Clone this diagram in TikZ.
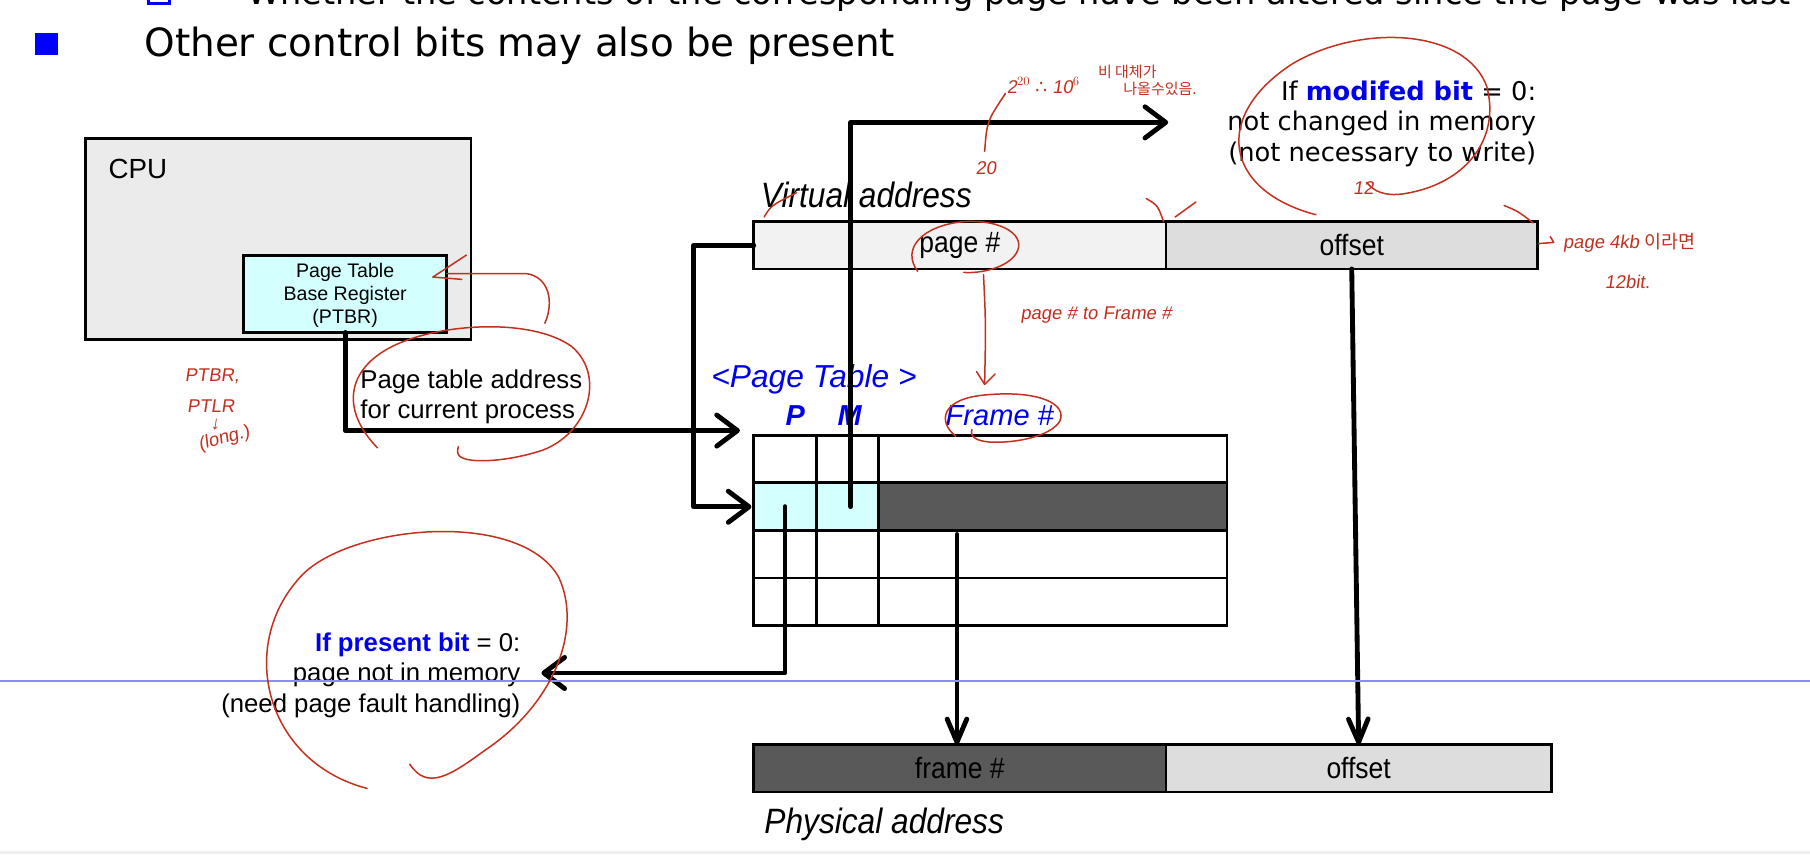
\documentclass[tikz,border=0pt]{standalone}
\usepackage{fontspec}
\setmainfont{Liberation Sans}
\newfontfamily\vfont{DejaVu Sans}
\newfontfamily\condfont{Liberation Sans}[FakeStretch=0.9]
\newfontfamily\handfont{Liberation Sans}[FakeSlant=0.15]
\newfontfamily\krfont{Noto Sans CJK KR}
\usetikzlibrary{arrows.meta,calc}
\definecolor{cpugray}{HTML}{EBEBEB}
\definecolor{cyanfill}{HTML}{D4FFFF}
\definecolor{darkfill}{HTML}{595959}
\definecolor{vfill}{HTML}{F2F2F2}
\definecolor{ofill}{HTML}{DDDDDD}
\definecolor{bluetxt}{HTML}{0000F0}
\definecolor{redink}{HTML}{C4301F}
\definecolor{rulecol}{HTML}{8C8CFF}
\begin{document}
\begin{tikzpicture}[x=1pt,y=-1pt,
  box/.style={draw=black, line width=2.4pt, inner sep=0pt, outer sep=0pt, anchor=north west},
  conn/.style={line width=4.2pt, line join=round, line cap=round},
  arr/.style={conn, -{Straight Barb[length=18pt,width=27pt,round]}},
  darr/.style={conn, -{Straight Barb[length=20pt,width=17pt,round]}},
  ink/.style={draw=redink, line width=1.3pt, line cap=round, line join=round},
  note/.style={text=redink, font=\handfont\fontsize{16}{18}\selectfont, inner sep=0pt, anchor=west},
  krnote/.style={text=redink, font=\krfont\fontsize{13}{15}\selectfont, inner sep=0pt, anchor=west},
  bartext/.style={font=\condfont\fontsize{25.5}{28}\selectfont},
  lbl/.style={inner sep=0pt},
]
\useasboundingbox (0,0) rectangle (1568,740);
\fill[white] (0,0) rectangle (1568,740);
\fill[gray!12] (0,737) rectangle (1568,740);

% slide text
\node[draw=blue, fill=white, line width=2.5pt, minimum size=18pt, inner sep=0pt] (b0) at (137.5,-6) {};
\node[lbl, anchor=base west, font=\vfont\fontsize{29.1}{36}\selectfont] (t0) at (214,4) {Whether the contents of the corresponding page have been altered since the page was last};
\node[fill=blue, minimum width=20pt, minimum height=19pt, inner sep=0pt] (b1) at (40,38.5) {};
\node[lbl, anchor=base west, font=\vfont\fontsize{33.7}{40}\selectfont] (t1) at (125,49) {Other control bits may also be present};

% CPU
\node[box, fill=cpugray, minimum width=334pt, minimum height=174pt] (cpu) at (74,120) {};
\node[lbl, anchor=west, font=\fontsize{24}{28}\selectfont] (cpulbl) at (94,146) {CPU};
\node[box, fill=cyanfill, minimum width=176pt, minimum height=67pt, align=center,
      font=\fontsize{17}{20}\selectfont] (ptbr) at (211,221) {\rule{0pt}{15pt}Page Table\\Base Register\\(PTBR)};
\node[lbl, anchor=west, align=left, font=\fontsize{22.3}{26}\selectfont] (ptaddr) at (312,344) {Page table address\\for current process};

% virtual address
\node[lbl, anchor=west, font=\condfont\itshape\fontsize{30.5}{34}\selectfont] (vlabel) at (659,169) {Virtual address};
\node[box, fill=vfill, minimum width=357pt, minimum height=41pt, bartext] (vpage) at (653,192) {page \#};
\node[box, fill=ofill, minimum width=322pt, minimum height=41pt, bartext] (voff) at (1010,192) {offset};

% page table
\node[lbl, anchor=west, text=bluetxt, font=\itshape\fontsize{27.5}{30}\selectfont] (pttitle) at (616,329) {<Page Table >};
\node[lbl, text=bluetxt, font=\bfseries\itshape\fontsize{25}{28}\selectfont] (plbl) at (689,360) {P};
\node[lbl, text=bluetxt, font=\bfseries\itshape\fontsize{25}{28}\selectfont] (mlbl) at (736,360) {M};
\node[lbl, anchor=west, text=bluetxt, font=\itshape\fontsize{25.2}{28}\selectfont] (flbl) at (819,360) {Frame \#};
\foreach \r/\pc/\fc in {1/white/white,2/cyanfill/darkfill,3/white/white,4/white/white}{
  \pgfmathsetmacro\yy{377+(\r-1)*41.25}
  \node[box, fill=\pc, minimum width=54pt, minimum height=41.25pt] (p\r) at (653,\yy) {};
  \node[box, fill=\pc, minimum width=54pt, minimum height=41.25pt] (m\r) at (707,\yy) {};
  \node[box, fill=\fc, minimum width=302pt, minimum height=41.25pt] (f\r) at (761,\yy) {};
}

% physical address
\node[box, fill=darkfill, minimum width=357pt, minimum height=41pt, bartext] (pframe) at (653,645) {frame \#};
\node[box, fill=ofill, minimum width=334pt, minimum height=41pt, bartext] (poff) at (1010,645) {offset};
\node[lbl, anchor=west, font=\condfont\itshape\fontsize{30.5}{34}\selectfont] (plabel) at (662,714) {Physical address};

% notes
\node[lbl, anchor=east, align=right, font=\vfont\fontsize{22.3}{26.5}\selectfont] (modtxt) at (1331,107)
  {If \textcolor{bluetxt}{\bfseries modifed bit} = 0:\\not changed in memory\\(not necessary to write)};
\node[lbl, anchor=east, align=right, font=\fontsize{22.3}{26.5}\selectfont] (prestxt) at (451,585)
  {\textcolor{bluetxt}{\bfseries If present bit} = 0:\\page not in memory\\(need page fault handling)};

% connectors
\coordinate (ptin) at (641,373);
\coordinate (vbend) at (601,212.5);
\coordinate (rowin) at (651,439);
\coordinate (modtip) at (1012,106);
\coordinate (prestip) at (469,583);
\coordinate (ftop) at (829,463);
\draw[arr] (ptbr.south) |- (ptin);
\draw[arr] (vpage.west) -- (vbend) |- (rowin);
\draw[arr] ($(m2.center)+(3,0)$) |- (modtip);
\draw[arr] (p2.center) |- (prestip);
\draw[darr] (ftop) -- (ftop |- pframe.north);
\draw[darr] (voff.south) -- (poff.north);

% screen rule
\draw[rulecol, line width=1pt] (0,590) -- (1568,590);

% handwritten red annotations
\draw[ink] (1140,186) .. controls (1060,165) and (1050,100) .. (1120,55) .. controls (1180,20) and (1270,25) .. (1288,75) .. controls (1300,120) and (1270,160) .. (1215,168) .. controls (1200,170) and (1190,166) .. (1184,158);
\node[note] (n12) at (1172,163) {12};
\draw[ink] (662,188) .. controls (668,178) .. (690,167);
\draw[ink] (993,172) .. controls (1003,178) .. (1008,192);
\draw[ink] (1018,188) -- (1036,175);
\draw[ink] (1303,178) .. controls (1315,183) .. (1328,193);
\draw[ink] (1333,211) -- (1346,210) -- (1343,205);
\node[note] (n4kb) at (1354,210) {page 4kb \krfont 이라면};
\node[note] (n12b) at (1390,244) {12bit.};
\draw[ink] (853,131) .. controls (855,105) .. (871,81);
\node[note] (n20) at (845,146) {20};
\node[note] (n220) at (872,74) {2$^{20}$ {\vfont ∴} 10$^{6}$};
\node[krnote] (nkr1) at (951,62) {비 대체가};
\node[krnote] (nkr2) at (973,77) {나올수있음.};
\draw[ink] (795,235) .. controls (780,215) and (800,195) .. (835,192) .. controls (870,190) and (890,205) .. (880,220) .. controls (872,232) and (850,237) .. (835,236);
\draw[ink] (852,238) .. controls (854,280) .. (853,332);
\draw[ink] (846,322) -- (853,333) -- (862,324);
\node[note] (npf) at (884,273) {page \# to Frame \#};
\draw[ink] (828,378) .. controls (812,365) and (815,345) .. (855,342) .. controls (900,338) and (925,350) .. (918,365) .. controls (910,378) and (880,384) .. (858,383) .. controls (845,382) and (840,378) .. (842,372);
\draw[ink] (404,221) -- (375,240) -- (400,242);
\draw[ink] (387,237) -- (456,237) .. controls (476,240) and (480,262) .. (472,280);
\draw[ink] (327,388) .. controls (295,355) and (300,320) .. (340,300) .. controls (380,280) and (460,275) .. (495,300) .. controls (525,325) and (510,375) .. (470,390) .. controls (440,400) and (405,402) .. (398,395) .. controls (396,392) .. (397,387);
\node[note] (nptbr) at (160,326) {PTBR,};
\node[note] (nptlr) at (162,352) {PTLR};
\node[note] (ndown) at (182,368) {↓};
\node[note, rotate=15] (nlong) at (172,386) {(long.)};
\draw[ink] (318,683) .. controls (230,660) and (205,560) .. (260,500) .. controls (300,455) and (450,440) .. (484,500) .. controls (505,545) and (480,610) .. (420,650) .. controls (390,672) and (370,685) .. (355,662);
\end{tikzpicture}
\end{document}
